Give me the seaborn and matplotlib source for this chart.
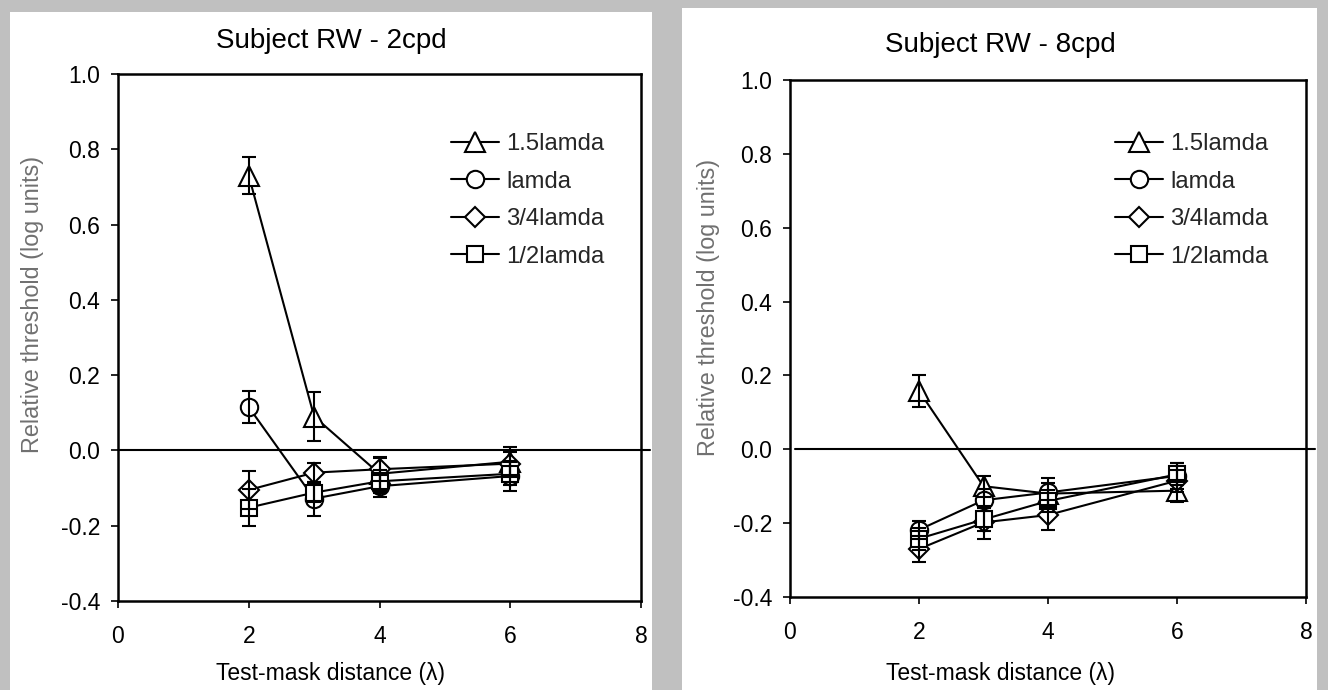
import matplotlib
matplotlib.use("Agg")
import matplotlib.pyplot as plt
from matplotlib.patches import Rectangle
import seaborn as sns
import numpy as np

# ---------------- data ----------------
distances = [2, 3, 4, 6]
series_names = ["1.5lamda", "lamda", "3/4lamda", "1/2lamda"]

# Subject RW - 2cpd
rw2_tri = [0.73, 0.09, -0.062, -0.030]
rw2_tri_err = [0.05, 0.065, 0.045, 0.04]
rw2_circ = [0.115, -0.128, -0.095, -0.068]
rw2_circ_err = [0.043, 0.045, 0.03, 0.04]
rw2_dia = [-0.105, -0.059, -0.050, -0.035]
rw2_dia_err = [0.05, 0.025, 0.03, 0.03]
rw2_sq = [-0.152, -0.112, -0.082, -0.062]
rw2_sq_err = [0.05, 0.025, 0.03, 0.03]

# Subject RW - 8cpd
rw8_tri = [0.158, -0.100, -0.120, -0.112]
rw8_tri_err = [0.043, 0.028, 0.03, 0.03]
rw8_circ = [-0.218, -0.138, -0.117, -0.072]
rw8_circ_err = [0.025, 0.03, 0.04, 0.035]
rw8_dia = [-0.270, -0.198, -0.178, -0.085]
rw8_dia_err = [0.035, 0.045, 0.04, 0.03]
rw8_sq = [-0.242, -0.190, -0.140, -0.068]
rw8_sq_err = [0.03, 0.03, 0.03, 0.03]

titles = ["Subject RW - 2cpd", "Subject RW - 8cpd"]
x_ticks = [0, 2, 4, 6, 8]
y_ticks = [-0.4, -0.2, 0.0, 0.2, 0.4, 0.6, 0.8, 1.0]
x_label = "Test-mask distance (\u03bb)"
y_label = "Relative threshold (log units)"

# ---------------- style ----------------
sns.set_style("white")
plt.rcParams["font.family"] = ["Liberation Sans", "DejaVu Sans"]
plt.rcParams["axes.unicode_minus"] = False

W, H = 1328, 690
fig = plt.figure(figsize=(W / 100, H / 100), dpi=100)
fig.patch.set_facecolor("#c0c0c0")

def px_rect(x0, y0, x1, y1):
    return [x0 / W, 1 - y1 / H, (x1 - x0) / W, (y1 - y0) / H]

# white panels
for (x0, y0, x1, y1) in [(10, 12, 652, 690), (682, 8, 1317, 690)]:
    fig.add_artist(Rectangle((x0 / W, 1 - y1 / H), (x1 - x0) / W, (y1 - y0) / H,
                             transform=fig.transFigure, facecolor="white",
                             edgecolor="none", zorder=0))

axes_px = [(118, 74, 641, 601), (790, 80, 1306, 597)]
panel_centers = [331, 1000]
title_y = [41, 45]
ylabel_x = [44, 720]
ylabel_cy = [304, 307]

panels = [
    [(rw2_tri, rw2_tri_err), (rw2_circ, rw2_circ_err), (rw2_dia, rw2_dia_err), (rw2_sq, rw2_sq_err)],
    [(rw8_tri, rw8_tri_err), (rw8_circ, rw8_circ_err), (rw8_dia, rw8_dia_err), (rw8_sq, rw8_sq_err)],
]
markers = ["^", "o", "D", "s"]
msizes = [14, 12.5, 10, 12]

for i, (apx, pdata) in enumerate(zip(axes_px, panels)):
    x0, y0, x1, y1 = apx
    axw = x1 - x0
    axh = y1 - y0
    ax = fig.add_axes(px_rect(x0, y0, x1, y1))
    ax.set_facecolor("white")
    ax.axhline(0, xmin=0.01 if i == 1 else 0, xmax=1.017, color="black",
               linewidth=1.5, clip_on=False, zorder=1)
    for name, (vals, errs), m, ms in zip(series_names, pdata, markers, msizes):
        sns.lineplot(x=distances, y=vals, ax=ax, color="black", marker=m,
                     markersize=ms, markerfacecolor="white", markeredgecolor="black",
                     markeredgewidth=1.5, linewidth=1.5, label=name, zorder=3,
                     legend=True)
        ax.errorbar(distances, vals, yerr=errs, fmt="none", ecolor="black",
                    elinewidth=1.5, capsize=5, capthick=1.5, zorder=4)
    ax.set_xlim(0, 8)
    ax.set_ylim(-0.4, 1.0)
    ax.set_xticks(x_ticks)
    ax.set_xticklabels([str(t) for t in x_ticks])
    ax.set_yticks(y_ticks)
    ax.set_yticklabels([f"{t:.1f}" for t in y_ticks])
    ax.tick_params(axis="both", direction="out", length=5, width=1.2,
                   color="black", labelsize=16.5, labelcolor="black",
                   left=True, bottom=True)
    ax.tick_params(axis="x", pad=12)
    ax.tick_params(axis="y", pad=8)
    for sp in ax.spines.values():
        sp.set_visible(True)
        sp.set_color("black")
        sp.set_linewidth(1.8)
    ax.set_xlabel(x_label, fontsize=16.5, color="black")
    ax.set_ylabel(y_label, fontsize=16.8, color="#707070")
    ax.xaxis.set_label_coords((panel_centers[i] - x0) / axw, (y1 - 662) / axh)
    ax.yaxis.set_label_coords((ylabel_x[i] - x0) / axw, (y1 - ylabel_cy[i]) / axh)
    # legend
    leg_x = ((451 if i == 0 else 1115) - x0) / axw
    leg_y = (y1 - 133) / axh
    ax.legend(loc="upper left", bbox_to_anchor=(leg_x, leg_y), frameon=False,
              fontsize=17.2, handlelength=2.0, handletextpad=0.3,
              labelspacing=0.65, borderpad=0, borderaxespad=0)
    fig.text(panel_centers[i] / W, 1 - title_y[i] / H, titles[i], ha="center",
             va="center", fontsize=20, color="black")

fig.savefig("out.png", dpi=100, facecolor=fig.get_facecolor())
